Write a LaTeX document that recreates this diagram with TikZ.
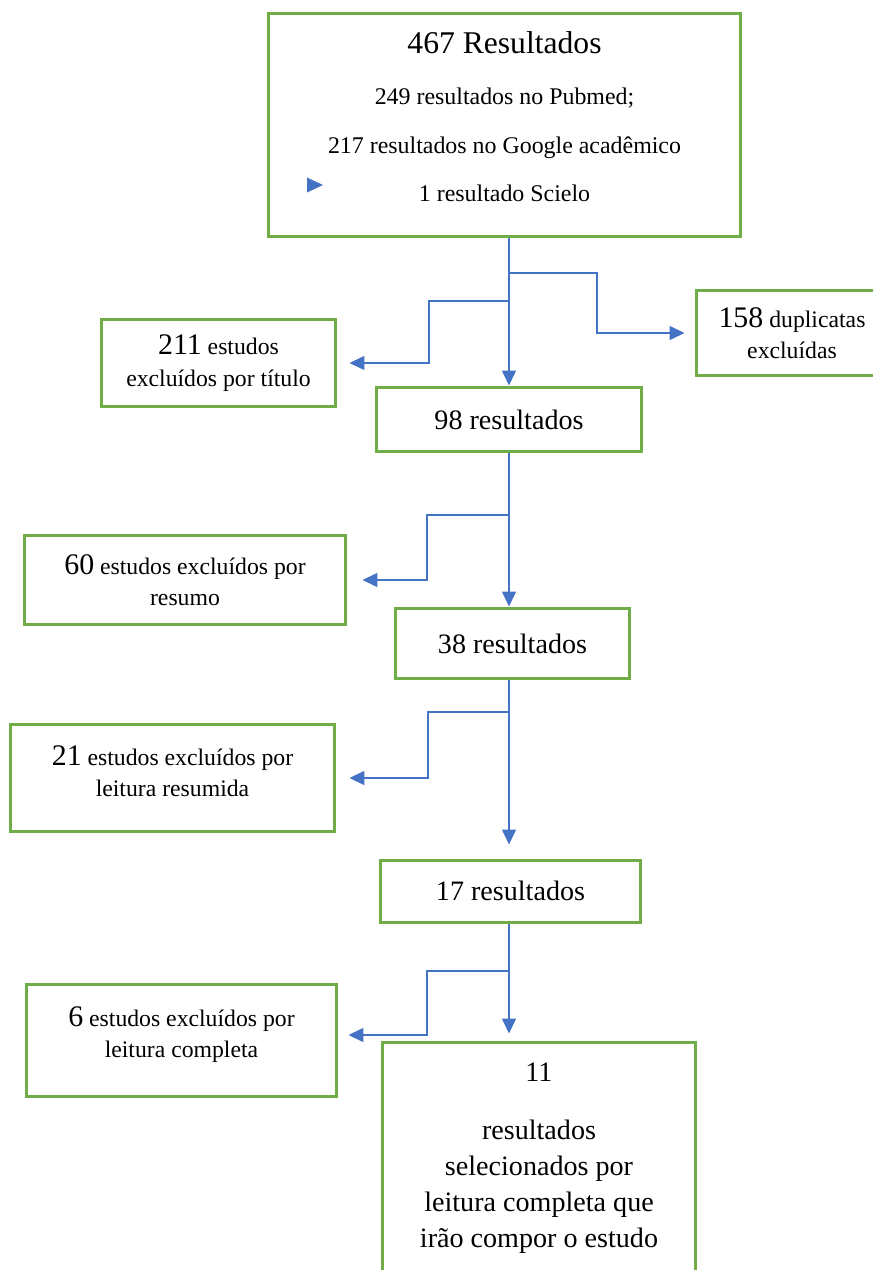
\documentclass[tikz,border=0pt]{standalone}
\usepackage{fontspec}
\setmainfont{Liberation Serif}
\usetikzlibrary{arrows.meta, positioning, calc}
\definecolor{BoxGreen}{HTML}{70AD47}
\definecolor{LineBlue}{HTML}{4472C4}
\newcommand{\bignum}[1]{{\fontsize{17}{18}\selectfont #1}}
\tikzset{
  gbox/.style={draw=BoxGreen, line width=0.06cm, fill=white, inner sep=0pt, align=center,
    font=\fontsize{13.5}{18}\selectfont},
  rbox/.style={draw=BoxGreen, line width=0.06cm, fill=white, inner sep=0pt, align=center,
    font=\fontsize{16}{20}\selectfont},
  txt/.style={anchor=base, inner sep=0pt},
  flow/.style={-{Triangle[length=0.3cm, width=0.28cm]}, line width=0.03cm, draw=LineBlue},
}

\begin{document}
\begin{tikzpicture}[x=0.02cm, y=-0.02cm]
    \useasboundingbox (0,0) rectangle (872,1270);
    \node[gbox, minimum width=9.46cm, minimum height=4.48cm] (n467) at (504.5,125) {};
    \node[txt, font=\fontsize{18}{20}\selectfont] (t467) at (504.5,54) {467 Resultados};
    \foreach \src [count=\i] in {{249 resultados no Pubmed;}, {217 resultados no Google acadêmico}, {1 resultado Scielo}}
      \node[txt, font=\fontsize{13.6}{18}\selectfont] (src\i) at (504.5,{105+48.5*(\i-1)}) {\src};
    \fill[LineBlue] (307,177.5) -- (323,185) -- (307,192.5) -- cycle;

    \node[gbox, minimum width=4.70cm, minimum height=1.76cm] (n211) at (218.5,363) {\bignum{211} estudos\\excluídos por título};
    \node[gbox, minimum width=3.84cm, minimum height=1.72cm] (n158) at (792,333) {\bignum{158} duplicatas\\excluídas};
    \node[rbox, minimum width=5.32cm, minimum height=1.30cm] (n98) at (509,419.5) {98 resultados};
    \node[gbox, minimum width=6.44cm, minimum height=1.80cm] (n60) at (185,580) {\bignum{60} estudos excluídos por\\resumo};
    \node[rbox, minimum width=4.70cm, minimum height=1.42cm] (n38) at (512.5,643.5) {38 resultados};
    \node[gbox, minimum width=6.50cm, minimum height=2.16cm, text depth=8pt] (n21) at (172.5,778) {\bignum{21} estudos excluídos por\\leitura resumida};
    \node[rbox, minimum width=5.22cm, minimum height=1.24cm] (n17) at (510.5,891) {17 resultados};
    \node[gbox, minimum width=6.22cm, minimum height=2.24cm, text depth=9pt] (n6) at (181.5,1040) {\bignum{6} estudos excluídos por\\leitura completa};
    \node[rbox, minimum width=6.28cm, minimum height=5.16cm] (n11) at (539,1171) {};
    \node[txt, font=\fontsize{16}{20}\selectfont] (t11) at (539,1081) {11};
    \foreach \sel [count=\i] in {resultados, selecionados por, leitura completa que, irão compor o estudo}
      \node[txt, font=\fontsize{16}{20}\selectfont] (sel\i) at (539,{1139+36.3*(\i-1)}) {\sel};

    \coordinate (j0) at (509,273);
    \coordinate (j1) at (509,301);
    \coordinate (j2) at (509,515);
    \coordinate (j3) at (509,712);
    \coordinate (j4) at (509,971);
    \draw[flow] (n467.south -| n98.north) -- (n98.north);
    \draw[flow, shorten >=0.2cm] (j0) -- ++(88,0) |- (n158.west);
    \draw[flow, shorten >=0.24cm] (j1) -- ++(-80,0) |- (n211.east);
    \draw[flow] (n98.south) -- (n98.south |- n38.north);
    \draw[flow, shorten >=0.3cm] (j2) -- ++(-82,0) |- (n60.east);
    \draw[flow, shorten >=0.28cm] (n38.south -| n98.south) -- (n98.south |- n17.north);
    \draw[flow, shorten >=0.26cm] (j3) -- ++(-81,0) |- (n21.east);
    \draw[flow, shorten >=0.14cm] (n17.south -| n98.south) -- (n98.south |- n11.north);
    \draw[flow, shorten >=0.2cm] (j4) -- ++(-82,0) |- ([yshift=0.1cm]n6.east);
  \end{tikzpicture}
\end{document}
